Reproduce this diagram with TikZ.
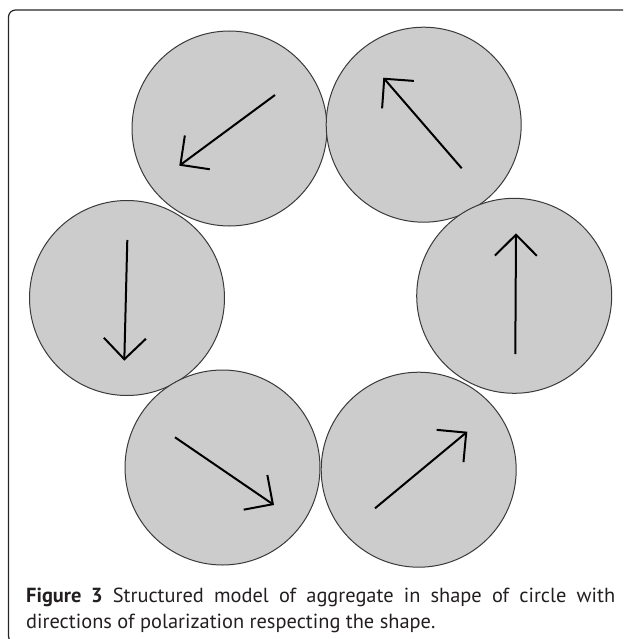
\documentclass[tikz,border=0pt]{standalone}
\usepackage{fontspec}
\setmainfont{PT Sans}
\usetikzlibrary{arrows.meta}
\definecolor{discfill}{HTML}{CCCCCC}
\definecolor{discline}{HTML}{3A3A3A}
\definecolor{captxt}{HTML}{231F20}
\begin{document}
\begin{tikzpicture}[x=1pt,y=-1pt,
  disc/.style={circle,draw=discline,line width=1pt,fill=discfill,minimum size=195pt,inner sep=0pt},
  polar/.style={line width=2pt,-{Straight Barb[length=21pt,width=42pt,line width=2pt]}},
  frame/.style={draw=black!85,line width=1.2pt,rounded corners=7pt}]
\useasboundingbox (0,0) rectangle (623,639);
\begin{scope}
\clip (0,0) rectangle (623,639);
\draw[frame] (8.5,10) rectangle (660,643);
\end{scope}
\node[disc] (c1) at (229.5,128.5) {};
\node[disc] (c2) at (423.7,124.7) {};
\node[disc] (c3) at (127,298) {};
\node[disc] (c4) at (514.2,295.8) {};
\node[disc] (c5) at (222.5,467.5) {};
\node[disc] (c6) at (418.7,469.7) {};
\coordinate (a1s) at (275,95);     \coordinate (a1e) at (179.3,165.7);
\coordinate (a2s) at (461.7,168.3); \coordinate (a2e) at (383.3,77.7);
\coordinate (a3s) at (127.3,240);  \coordinate (a3e) at (124.3,360.7);
\coordinate (a4s) at (515.3,354);  \coordinate (a4e) at (516,233.3);
\coordinate (a5s) at (175,437.3);  \coordinate (a5e) at (274,505);
\coordinate (a6s) at (375,508.3);  \coordinate (a6e) at (467.3,431.7);
\foreach \i in {1,...,6} {\draw[polar] (a\i s) -- (a\i e);}
\node[anchor=base west,inner sep=0pt,text width=589pt,align=justify,font=\fontsize{20.4pt}{26pt}\selectfont,text=captxt] (cap) at (26,602.7)
  {\textbf{Figure 3} Structured model of aggregate in shape of circle with\linebreak directions of polarization respecting the shape.};
\end{tikzpicture}
\end{document}
